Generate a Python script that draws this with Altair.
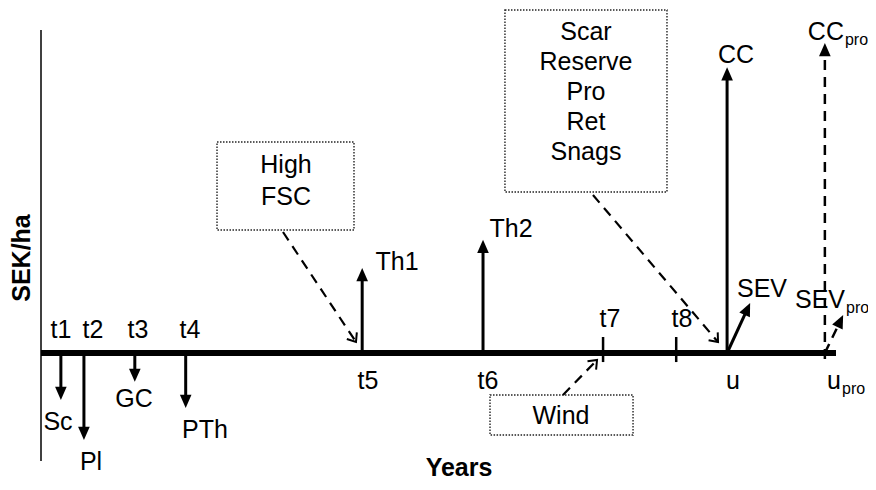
import math
import altair as alt
import pandas as pd

# ---------------- data (years on x, SEK/ha on y) ----------------
ev_names = ["Sc", "Pl", "GC", "PTh", "Th1", "Th2", "CC", "CC_pro"]
ev_time = [2.5, 5.4, 11.8, 18.2, 40.4, 55.6, 86.3, 98.6]
ev_start = [0, 0, 0, 0, 0, 0, 0, -2.1]
ev_value = [-16.6, -30.7, -10.2, -19.4, 30.0, 40.0, 101.0, 109.5]
ev_dashed = [False, False, False, False, False, False, False, True]

sev_names = ["SEV", "SEV_pro"]
sev_t0 = [86.3, 98.6]
sev_t1 = [89.2, 100.9]
sev_value = [17.7, 13.4]
sev_dashed = [False, True]

tick_names = ["t7", "t8"]
tick_time = [70.7, 79.9]
tick_lo = [-3.2, -3.2]
tick_hi = [5.65, 5.65]

timeline = [0, 100]
axis_span = [-38.2, 114.1]

time_labels = ["t1", "t2", "t3", "t4", "t5", "t6", "t7", "t8", "u"]
time_label_x = [2.5, 6.54, 12.2, 18.74, 41.13, 56.23, 71.57, 80.63, 87.04]
time_label_y = [5.3, 5.3, 5.3, 5.3, -12.72, -12.72, 9.19, 9.19, -12.72]

event_labels = ["Sc", "Pl", "GC", "PTh", "Th1", "Th2", "CC", "SEV"]
event_label_x = [2.14, 6.29, 11.7, 20.63, 44.78, 59.12, 87.42, 90.69]
event_label_y = [-27.2, -41.34, -19.08, -30.04, 29.33, 40.99, 102.47, 19.79]

sub_main = ["CC", "SEV", "u"]
sub_text = ["pro", "pro", "pro"]
sub_x = [101.0, 101.13, 100.63]
sub_main_y = [110.6, 15.9, -12.72]
sub_y = [108.83, 14.13, -14.49]

box_x1 = [22.14, 58.36, 56.48]
box_x2 = [39.37, 78.74, 74.47]
box_y1 = [74.56, 121.2, -14.84]
box_y2 = [43.46, 56.89, -28.98]

box_text = ["High", "FSC", "Scar", "Reserve", "Pro", "Ret", "Snags", "Wind"]
box_text_x = [30.82, 30.82, 68.55, 68.55, 68.55, 68.55, 68.55, 65.41]
box_text_y = [63.6, 52.3, 110.6, 100.0, 89.4, 78.8, 68.2, -25.09]

box_arrow_x1 = [30.44, 69.43, 65.66]
box_arrow_y1 = [42.76, 55.83, -14.84]
box_arrow_x2 = [39.62, 85.16, 69.94]
box_arrow_y2 = [3.89, 3.89, -2.47]

y_title = "SEK/ha"
x_title = "Years"
y_title_pos = [-2.39, 33.57]
x_title_pos = [52.58, -43.4]

# ---------------- layout ----------------
W, H = 860, 474
PX_YEAR = 7.95
PX_UNIT = 2.83
ORIGIN_X = 33
BASE_Y = 345
x_dom = [-ORIGIN_X / PX_YEAR, (W - ORIGIN_X) / PX_YEAR]
y_dom = [-(H - BASE_Y) / PX_UNIT, BASE_Y / PX_UNIT]
FONT = "Liberation Sans"
FS = 25
FS_SUB = 16

xs = alt.Scale(domain=x_dom, nice=False, zero=False)
ys = alt.Scale(domain=y_dom, nice=False, zero=False)
X = lambda f: alt.X(f, type="quantitative", scale=xs, axis=None)
Y = lambda f: alt.Y(f, type="quantitative", scale=ys, axis=None)


def angle_of(x1, y1, x2, y2):
    dxp = (x2 - x1) * PX_YEAR
    dyp = (y2 - y1) * PX_UNIT
    return math.degrees(math.atan2(dxp, dyp)) % 360


def shorten(x1, y1, x2, y2, px):
    dxp = (x2 - x1) * PX_YEAR
    dyp = (y2 - y1) * PX_UNIT
    L = math.hypot(dxp, dyp)
    f = (L - px) / L
    return x1 + (x2 - x1) * f, y1 + (y2 - y1) * f


solid, dashed, heads, chevrons = [], [], [], []
solid.append(dict(x=timeline[0], x2=timeline[1], y=0, y2=0, w=6))
solid.append(dict(x=0, x2=0, y=axis_span[0], y2=axis_span[1], w=1.5))
for t, lo, hi in zip(tick_time, tick_lo, tick_hi):
    solid.append(dict(x=t, x2=t, y=lo, y2=hi, w=2.5))

arrows = []
for t, s, v, d in zip(ev_time, ev_start, ev_value, ev_dashed):
    arrows.append((t, s, t, v, d))
for t0, t1, v, d in zip(sev_t0, sev_t1, sev_value, sev_dashed):
    arrows.append((t0, 0, t1, v, d))
for x1, y1, x2, y2, d in arrows:
    ex, ey = shorten(x1, y1, x2, y2, 9)
    row = dict(x=x1, x2=ex, y=y1, y2=ey, w=3 if not d else 2.5)
    (dashed if d else solid).append(row)
    heads.append(dict(x=x2, y=y2, a=angle_of(x1, y1, x2, y2)))
for x1, y1, x2, y2 in zip(box_arrow_x1, box_arrow_y1, box_arrow_x2, box_arrow_y2):
    dashed.append(dict(x=x1, x2=x2, y=y1, y2=y2, w=2.2))
    chevrons.append(dict(x=x2, y=y2, a=angle_of(x1, y1, x2, y2)))

solid_df = pd.DataFrame(solid)
dashed_df = pd.DataFrame(dashed)
heads_df = pd.DataFrame(heads)
chev_df = pd.DataFrame(chevrons)

boxes_df = pd.DataFrame(dict(x=box_x1, x2=box_x2, y=box_y1, y2=box_y2))

plain_df = pd.DataFrame(dict(
    label=time_labels + event_labels + box_text,
    x=time_label_x + event_label_x + box_text_x,
    y=time_label_y + event_label_y + box_text_y,
))
main_df = pd.DataFrame(dict(label=sub_main, x=sub_x, y=sub_main_y))
subs_df = pd.DataFrame(dict(label=sub_text, x=sub_x, y=sub_y))
xt_df = pd.DataFrame(dict(label=[x_title], x=[x_title_pos[0]], y=[x_title_pos[1]]))
yt_df = pd.DataFrame(dict(label=[y_title], x=[y_title_pos[0]], y=[y_title_pos[1]]))

txt = dict(font=FONT, color="black", baseline="alphabetic")

plain = alt.Chart(plain_df).mark_text(align="center", fontSize=FS, **txt).encode(
    x=X("x"), y=Y("y"), text="label:N")
mains = alt.Chart(main_df).mark_text(align="right", fontSize=FS, **txt).encode(
    x=X("x"), y=Y("y"), text="label:N")
subs = alt.Chart(subs_df).mark_text(align="left", fontSize=FS_SUB, dx=1, **txt).encode(
    x=X("x"), y=Y("y"), text="label:N")
xtitle = alt.Chart(xt_df).mark_text(align="center", fontSize=FS, fontWeight="bold", **txt).encode(
    x=X("x"), y=Y("y"), text="label:N")
ytitle = alt.Chart(yt_df).mark_text(align="center", baseline="middle", angle=270, fontSize=FS,
                                    fontWeight="bold", font=FONT, color="black").encode(
    x=X("x"), y=Y("y"), text="label:N")

boxes = alt.Chart(boxes_df).mark_rect(fill="white", fillOpacity=0, stroke="#222",
                                      strokeWidth=1.4, strokeDash=[1.5, 1.5]).encode(
    x=X("x"), x2="x2:Q", y=Y("y"), y2="y2:Q")

solid_rules = alt.Chart(solid_df).mark_rule(color="black").encode(
    x=X("x"), x2="x2:Q", y=Y("y"), y2="y2:Q", strokeWidth=alt.StrokeWidth("w:Q", scale=None))
dashed_rules = alt.Chart(dashed_df).mark_rule(color="black", strokeDash=[10, 7]).encode(
    x=X("x"), x2="x2:Q", y=Y("y"), y2="y2:Q", strokeWidth=alt.StrokeWidth("w:Q", scale=None))

head_pts = alt.Chart(heads_df).mark_point(
    shape="M0,0L-0.44,1L0.44,1Z", size=700, filled=True, fill="black", opacity=1, strokeWidth=0
).encode(x=X("x"), y=Y("y"), angle=alt.Angle("a:Q", scale=None))
chev_pts = alt.Chart(chev_df).mark_point(
    shape="M-0.8,1L0,0L0.8,1", size=225, filled=False, stroke="black", strokeWidth=2, opacity=1
).encode(x=X("x"), y=Y("y"), angle=alt.Angle("a:Q", scale=None))

chart = alt.layer(
    plain, mains, subs, xtitle, ytitle, boxes, solid_rules, dashed_rules, head_pts, chev_pts
).properties(
    width=W, height=H, autosize=alt.AutoSizeParams(type="none"), padding=0
).configure_view(stroke=None)

chart.save("out.html", embed_options={"renderer": "svg", "actions": False})
